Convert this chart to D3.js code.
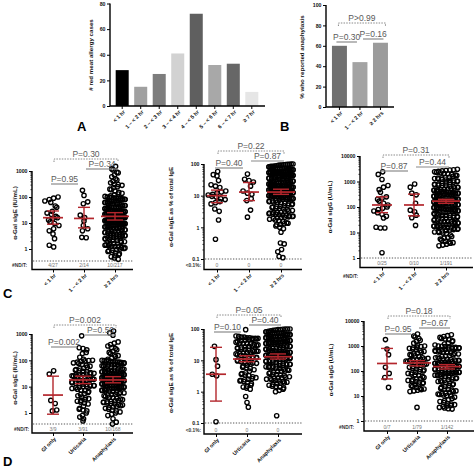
<!DOCTYPE html>
<html><head><meta charset="utf-8">
<script src="https://cdn.jsdelivr.net/npm/d3@7"></script>
<style>body{margin:0;background:#fff}svg{display:block;font-family:"Liberation Sans",Arial,sans-serif}</style>
</head><body><svg id="c" width="474" height="468"></svg>
<script>
// ---------------- DATA ----------------
const catsA = ["< 1 hr","1 – < 2 hr","2 – < 3 hr","3 – < 4 hr","4 – < 5 hr","5 – < 6 hr","6 – < 7 hr","≥ 7 hr"];
const valsA = [28,15,25,41,72,32,33,11];
const colorsA = ["#000000","#a0a0a0","#7d7d7d","#d2d2d2","#5f5f5f","#a8a8a8","#676767","#e6e6e6"];
const catsB = ["< 1 hr","1 – < 2 hr","≥ 2 hrs"];
const valsB = [60,44,63];
const colorsB = ["#707070","#a3a3a3","#9b9b9b"];
const pB = ["P=0.30","P=0.16","P>0.99"];

const catsTime = ["< 1 hr","1 – < 2 hr","≥ 2 hrs"];
const catsReact = ["GI only","Urticaria","Anaphylaxis"];

// C1: alpha-Gal sIgE (IU/mL) by time
const c1_lt1 = [100,90,80,70,62,45,40,28,24,21,18,16,15,13,11,9.5,8,6,5,3.8,2.5,1.4,1.2];
const c1_mid = [180,115,65,55,20,16,12,8,6,5,2.8,2.7];
const c1_ge2 = [1500,1200,1100,900,850,700,600,500,450,400,350,300,300,280,250,230,200,190,170,150,140,130,120,110,105,
95,92,90,88,85,82,80,78,75,72,70,68,65,63,60,58,56,55,52,50,48,46,45,43,42,40,38,37,36,35,34,33,32,31,30,30,99,97,87,76,66,54,47,41,39,
29,28,28,27,26,26,25,25,24,24,23,23,22,22,21,21,20,20,20,19,19,19,18,18,18,17,17,17,16,16,16,15,15,15,14,14,14,13,13,13,12.5,12,12,12,11.5,11,11,11,10.5,10.5,10.2,10,10,10,29.5,27.5,22.5,18.5,15.5,12.8,
9.8,9.5,9.2,9,8.8,8.5,8.2,8,7.8,7.5,7.2,7,6.8,6.5,6.2,6,5.8,5.5,5.2,5,4.8,4.6,4.4,4.2,4,3.9,3.8,3.6,3.5,3.4,3.3,3.2,3.1,3,9.6,8.6,7.4,6.4,5.4,4.5,
2.9,2.8,2.7,2.6,2.5,2.4,2.3,2.2,2.1,2,1.9,1.8,1.7,1.6,1.5,1.45,1.4,1.35,1.3,1.25,1.2,1.15,1.1,1.05,1,
0.95,0.9,0.85,0.8,0.75,0.7,0.65,0.6,0.55,0.5,0.45,0.4];
const medC1 = [16,15,18], loC1 = [9,6.5,13], hiC1 = [29,40,25];
const ndC1 = ["4/27","2/14","10/217"];
const pC1 = ["P=0.95","P=0.34","P=0.30"];

// C2: alpha-Gal sIgE as % of total IgE by time
const c2_lt1 = [58,46,42,30,22,20,18,14,13,12,11,10.5,9.5,9,8,7.5,6.5,6,5.5,3.8,3.2,1.7,0.42];
const c2_mid = [48,33,30,27,20,14,12,11,8,7,3.5,2.1];
const c2_ge2 = [100,100,98,97,96,95,93,92,90,88,86,85,
82,80,78,76,75,73,72,70,68,66,65,63,62,60,58,57,56,55,54,53,52,51,50,50,84,79,74,69,64,61,59,57.5,55.5,52.5,51.5,
49,48,47,46,45,44,43,42,41,40,39,38,37,36,35,34,33,32,31,30,29.5,29,28,27.5,27,26,25.5,25,24,23.5,23,22.5,22,21.5,21,20.5,20,48.5,44.5,40.5,37.5,34.5,31.5,28.5,26.5,24.5,22.2,21.2,20.2,45.5,
19.5,19,18.5,18,17.5,17,16.5,16,15.5,15,14.5,14,13.5,13,12.5,12,11.5,11,10.5,10,9.8,9.5,9.2,9,8.8,8.5,8.2,8,19.2,18.2,17.2,16.2,15.2,14.2,13.2,12.2,11.2,10.2,9.6,8.6,19.8,18.8,17.8,16.8,15.8,14.8,13.8,12.8,11.8,10.8,9.9,9.3,8.9,8.3,8.1,
7.8,7.5,7.2,7,6.8,6.5,6.2,6,5.8,5.5,5.2,5,4.8,4.6,4.4,4.2,4,3.8,3.6,3.4,3.2,3,2.9,2.8,2.7,2.6,2.5,2.4,2.3,2.2,2.1,2,7.6,6.6,5.6,4.5,3.9,3.3,2.95,2.65,2.45,2.25,2.15,2.05,6.3,
1.9,1.8,1.7,1.6,1.5,1.4,1.35,1.3,1.25,1.2,1.1,1,0.9,0.7,
0.32,0.3,0.2,0.17,0.12,0.11];
const medC2 = [10,13,13], loC2 = [6,7,11], hiC2 = [15,26,16];
const ndC2 = ["0","0","0"];
const pC2 = ["P=0.40","P=0.87","P=0.22"];

// C3: alpha-Gal sIgG (U/mL) by time
const c3_lt1 = [2400,1900,1200,700,600,480,380,250,220,200,170,140,120,100,90,80,70,60,52,43,37,15,15,16,1.6];
const c3_mid = [800,600,350,300,140,75,65,48,38,19];
const c3_ge2 = [3000,2900,2800,2700,2600,2500,2400,2300,2200,2100,2000,1900,1800,1700,1600,
1450,1400,1350,1300,1250,1200,1150,1100,1050,1000,950,900,850,800,780,750,720,700,680,650,620,600,580,560,540,520,500,1380,1120,880,
480,460,440,420,400,390,380,370,360,350,340,330,320,310,300,290,280,270,260,250,240,230,220,210,200,195,190,185,180,175,170,165,160,155,150,145,140,135,130,125,120,115,110,105,100,470,430,395,355,315,285,255,225,205,188,172,158,142,128,112,
98,95,92,90,88,85,82,80,78,75,72,70,68,65,62,60,58,55,52,50,48,46,44,42,40,38,36,34,32,30,29,28,27,26,25,24,23,22,21,20,96,86,76,66,56,47,39,33,27.5,22.5,
19.5,19,18.5,18,17.5,17,16.5,16,15.5,15,14.5,14,13.5,13,12.5,12,11.5,11,10.5,10,
9.5,9,8,7,6.5,6,5.5,5,4.5,4.2,4,3.8,3.5,3.2,3];
const medC3 = [120,120,170], loC3 = [60,45,140], hiC3 = [250,320,200];
const ndC3 = ["0/25","0/10","1/191"];
const pC3 = ["P=0.87","P=0.44","P=0.31"];

// D1: alpha-Gal sIgE (IU/mL) by reaction
const d1_gi = [40,30,3,2.3,1.3,1.2];
const d1_urt = [850,300,280,250,200,180,130,110,
100,98,95,90,85,80,75,70,65,60,55,50,48,45,42,40,38,36,34,32,31,30,
29,28,27,26,25,24,23,22,21,20,19,18.5,18,17,16.5,16,15,14,13.5,13,12.5,12,11.5,11,10.8,10.5,10.2,10,
9.5,9,8.5,8,7.5,7,6.5,6,5.5,5,4.5,4,3.8,3.5,3.2,3,2.8,2.6,2.4,2.2,
1.8,1.5,1.4,1.3,1.2,1,0.8,0.7,0.6,0.5];
const d1_ana = [1300,1100,900,500,450,400,350,300,280,250,220,200,180,160,150,140,120,110,
100,98,95,92,90,88,85,82,80,78,75,72,70,68,65,62,60,58,55,52,50,48,46,45,44,42,40,39,38,37,36,35,34,33,32,31,30,96,86,66,
29.5,29,28.5,28,27,26.5,26,25,24.5,24,23,22.5,22,21,20.5,20,19.5,19,18.5,18,17.5,17,16.5,16,15.5,15,14.5,14,13.5,13,12.5,12,11.5,11,10.8,10.5,10.2,10,27.5,25.5,21.5,18.2,16.2,13.2,11.2,
9.8,9.5,9.2,9,8.8,8.5,8.2,8,7.8,7.5,7.2,7,6.8,6.5,6.2,6,5.8,5.5,5.2,5,4.8,4.5,4.2,4,3.8,3.6,3.4,3.2,3,2.9,2.8,2.7,2.6,2.5,2.4,2.3,2.2,2.1,2,9.3,
1.9,1.8,1.7,1.6,1.5,1.4,1.3,1.2,1.1,1,0.9,0.8,0.6,0.45,0.38];
const medD1 = [4.8,18,18], loD1 = [0.9,13,14], hiD1 = [25,25,24];
const ndD1 = ["3/9","3/91","10/168"];
const pD1 = ["P=0.002","P=0.50","P=0.002"];

// D2: alpha-Gal sIgE as % of total IgE by reaction
const d2_gi = [28,10.5,6.5,3.6,3.2,0.11];
const d2_urt = [95,60,58,55,55,52,52,50,50,50,
48,46,45,44,42,40,38,36,35,34,33,32,31,30,29,28,27,26,25,24,23,22,21,20.5,20,
19.5,19,18.5,18,17,16.5,16,15,14.5,14,13.5,13,12.5,12,11.5,11,10.5,10,9.5,9,8.8,8.5,8.2,8,11.8,
7.5,7,6.5,6,5.5,5,4.5,4,3.8,3.6,3.4,3.2,3,2.8,2.6,2.5,2.4,2.3,2.2,2.1,2,5.8,
1.8,1.6,1.5,1.4,1.3,1.2,0.7,0.45,0.32];
const d2_ana = [100,100,100,98,96,95,92,90,88,85,82,80,
78,76,75,73,72,70,68,66,65,63,62,60,58,57,55,54,52,50,49,48,47,46,45,44,43,42,41,40,79,74,69,64,59,53,45.5,
39,38,37,36,35,34,33,32,31,30,29,28,27,26,25,24,23,22,21,20,19.5,19,18.5,18,17.5,17,16.5,16,15.5,15,38.5,35.5,32.5,29.5,27.5,25.5,23.5,21.5,19.8,18.8,17.8,16.8,15.8,15.2,36.5,
14.5,14,13.5,13,12.5,12,11.5,11,10.5,10,9.5,9,8.5,8,7.8,7.5,7.2,7,6.8,6.5,6.2,6,5.8,5.5,5.2,5,14.2,13.2,12.2,11.2,10.2,9.2,8.2,7.4,6.6,5.6,12.8,10.8,8.8,6.4,
4.8,4.6,4.4,4.2,4,3.8,3.6,3.4,3.2,3,2.9,2.8,2.7,2.6,2.5,2.4,2.3,2.2,2.1,2,1.9,1.8,1.7,1.6,1.5,1.4,1.3,1.2,1.1,1,4.5,3.5,2.75,1.85,1.45,
0.17];
const medD2 = [3.6,11,13], loD2 = [0.5,9,11], hiD2 = [26,14,16];
const ndD2 = ["0","0","0"];
const pD2 = ["P=0.10","P=0.40","P=0.05"];

// D3: alpha-Gal sIgG (U/mL) by reaction
const d3_gi = [1800,750,450,140,80,55,22];
const d3_urt = [3000,2500,2300,2000,1700,1500,1300,1100,
1000,950,900,850,800,750,700,650,600,560,520,480,450,420,400,370,340,320,
300,290,280,270,260,250,240,230,220,210,200,190,180,170,160,150,140,130,120,115,110,100,
95,90,85,80,75,70,65,60,55,50,48,45,42,40,38,36,34,32,30,28,26,24,22,20,
19,18,17,16,15,3.5];
const d3_ana = [2800,2600,2400,2200,2000,1900,1800,1600,1500,1300,1200,1100,
1000,980,950,920,900,880,850,820,800,780,750,720,700,680,650,620,600,580,550,520,500,480,450,420,400,380,360,340,320,300,
290,280,270,260,250,240,230,220,210,200,195,190,185,180,175,170,165,160,155,150,145,140,135,130,125,120,115,110,105,100,275,235,205,178,152,
98,95,92,90,88,85,82,80,78,75,72,70,68,65,62,60,58,55,52,50,48,45,42,40,38,36,34,32,30,28,26,24,22,20,85.5,
19,18,17,16,15,14,13,12.5,12,11.5,11,10.5,10,9,8,7,6.5,6,5.5,5,4.8,4.5,4.2,4,3.8,3.5,3.3,3.1,3];
const medD3 = [200,210,150], loD3 = [48,160,120], hiD3 = [800,260,180];
const ndD3 = ["0/7","1/79","1/142"];
const pD3 = ["P=0.95","P=0.67","P=0.18"];

// ---------------- DRAWING ----------------
const svg = d3.select("#c");
const RED = "#b3262c", GRAYP = "#5a5a5a", LINEP = "#8a8a8a";

function rotLabels(g, x, cats, axisY, fs) {
  g.selectAll(null).data(cats).join("text")
    .attr("transform", d => `translate(${x(d) + (x.bandwidth ? x.bandwidth()/2 : 0) + 2},${axisY + 5}) rotate(-45)`)
    .attr("text-anchor", "end").attr("dy", "0.35em")
    .attr("font-size", fs).attr("font-weight", "bold").attr("fill", "#111").text(d => d);
}
function yLabel(g, x, y, txt) {
  g.append("text").attr("transform", `translate(${x},${y}) rotate(-90)`)
    .attr("text-anchor", "middle").attr("dy", "0.35em")
    .attr("font-size", 6.2).attr("font-weight", "bold").attr("fill", "#111").text(txt);
}
function styleAxis(sel) {
  sel.select(".domain").remove();
  sel.selectAll(".tick line").attr("stroke", "#000").attr("stroke-width", 1);
  sel.selectAll(".tick text").attr("font-size", 5.2).attr("font-weight", "bold").attr("fill", "#111")
    .attr("font-family", '"Liberation Sans",Arial,sans-serif');
}
function bracket(g, x1, x2, yl, label, dashed) {
  if (dashed) {
    g.append("path").attr("d", `M${x1},${yl + 3}V${yl}H${x2}V${yl + 3}`)
      .attr("fill", "none").attr("stroke", LINEP).attr("stroke-width", 1).attr("stroke-dasharray", "1.5,1.2");
  } else {
    g.append("line").attr("x1", x1).attr("x2", x2).attr("y1", yl).attr("y2", yl)
      .attr("stroke", LINEP).attr("stroke-width", 1.2);
  }
  g.append("text").attr("x", (x1 + x2) / 2).attr("y", yl - 2.3).attr("text-anchor", "middle")
    .attr("font-size", 8.5).attr("fill", GRAYP).text(label);
}
function letter(x, y, t) {
  svg.append("text").attr("x", x).attr("y", y).attr("font-size", 13).attr("font-weight", "bold").attr("fill", "#000").text(t);
}

// ---- Panel A ----
(function () {
  const g = svg.append("g");
  const x = d3.scaleBand().domain(catsA).range([110.5, 263.5]).paddingInner(0.297).paddingOuter(0.28);
  const y = d3.scaleLinear().domain([0, 80]).range([106, 3.5]);
  g.selectAll("rect").data(catsA).join("rect")
    .attr("x", d => x(d)).attr("width", x.bandwidth())
    .attr("y", (d, i) => y(valsA[i])).attr("height", (d, i) => y(0) - y(valsA[i]))
    .attr("fill", (d, i) => colorsA[i]);
  const ya = g.append("g").attr("transform", "translate(110,0)").call(d3.axisLeft(y).tickValues([0, 20, 40, 60, 80]).tickSize(3).tickPadding(1.5));
  styleAxis(ya);
  const xa = g.append("g").attr("transform", "translate(0,106)").call(d3.axisBottom(x).tickSize(3).tickFormat(""));
  styleAxis(xa);
  g.append("path").attr("d", "M110,3.5V106H265").attr("fill", "none").attr("stroke", "#000").attr("stroke-width", 1.4);
  rotLabels(g, x, catsA, 106, 5.4);
  yLabel(g, 91, 55, "# red meat allergy cases");
})();

// ---- Panel B ----
(function () {
  const g = svg.append("g");
  const x = d3.scaleBand().domain(catsB).range([326, 393.9]).paddingInner(0.27).paddingOuter(0.29);
  const y = d3.scaleLinear().domain([0, 100]).range([107, 5]);
  g.selectAll("rect").data(catsB).join("rect")
    .attr("x", d => x(d)).attr("width", x.bandwidth())
    .attr("y", (d, i) => y(valsB[i])).attr("height", (d, i) => y(0) - y(valsB[i]))
    .attr("fill", (d, i) => colorsB[i]);
  const ya = g.append("g").attr("transform", "translate(326,0)").call(d3.axisLeft(y).tickValues([0, 20, 40, 60, 80, 100]).tickSize(3).tickPadding(1.5));
  styleAxis(ya);
  const xa = g.append("g").attr("transform", "translate(0,107)").call(d3.axisBottom(x).tickSize(3).tickFormat(""));
  styleAxis(xa);
  g.append("path").attr("d", "M326,5V107H394").attr("fill", "none").attr("stroke", "#000").attr("stroke-width", 1.4);
  rotLabels(g, x, catsB, 107, 5.4);
  yLabel(g, 302, 57, "% who reported anaphylaxis");
  const c = d => x(d) + x.bandwidth() / 2;
  bracket(g, c(catsB[0]) - 3, c(catsB[1]) - 3, 42, pB[0], false);
  bracket(g, c(catsB[1]) + 3, c(catsB[2]) + 3, 39, pB[1], false);
  bracket(g, c(catsB[0]) - 1, c(catsB[2]) + 5, 23, pB[2], true);
})();

// ---- swarm layout ----
function swarm(vals, y, cx, maxHalf, rowH, sp0) {
  const pts = vals.map(v => ({ v, y: y(v) })).sort((a, b) => a.y - b.y);
  const rows = [];
  let cur = null;
  pts.forEach(p => {
    if (!cur || p.y - cur.y0 > rowH) { cur = { y0: p.y, pts: [] }; rows.push(cur); }
    cur.pts.push(p);
  });
  rows.forEach((r, ri) => {
    const n = r.pts.length;
    const sp = n > 1 ? Math.min(sp0, 2 * maxHalf / (n - 1)) : 0;
    const shift = (n * sp0 < 2 * maxHalf) ? (ri % 3 - 1) * sp0 * 0.35 : 0;
    const order = r.pts.slice().sort((a, b) => a.v - b.v);
    if (ri % 2) order.reverse();
    order.forEach((p, i) => p.x = cx + (i - (n - 1) / 2) * sp + shift);
  });
  return pts;
}

function scatterPanel(c) {
  const g = svg.append("g");
  const x = d3.scalePoint().domain(c.cats).range(c.xs);
  const y = d3.scaleLog().domain(c.yDom).range(c.yRange);
  const top = y(c.ticks[c.ticks.length - 1]);
  const minors = [];
  for (let e = Math.log10(c.ticks[0]); e < Math.log10(c.ticks[c.ticks.length - 1]) - 0.01; e++) {
    for (let k = 2; k <= 9; k++) minors.push(k * Math.pow(10, e));
  }
  const ym = g.append("g").attr("transform", `translate(${c.ax},0)`).call(d3.axisLeft(y).tickValues(minors).tickSize(1.6).tickFormat(""));
  styleAxis(ym); ym.selectAll(".tick line").attr("stroke-width", 0.7);
  const ya = g.append("g").attr("transform", `translate(${c.ax},0)`).call(d3.axisLeft(y).tickValues(c.ticks).tickSize(3).tickPadding(1.5).tickFormat(d => String(d)));
  styleAxis(ya);
  const xa = g.append("g").attr("transform", `translate(0,${c.axisY})`).call(d3.axisBottom(x).tickSize(3).tickFormat(""));
  styleAxis(xa);
  g.append("path").attr("d", `M${c.ax},${top}V${c.axisY}H${c.xEnd}`).attr("fill", "none").attr("stroke", "#000").attr("stroke-width", 1.4);
  g.append("line").attr("x1", c.ax + 1).attr("x2", c.xEnd).attr("y1", c.dashY).attr("y2", c.dashY)
    .attr("stroke", "#444").attr("stroke-width", 0.9).attr("stroke-dasharray", "1.3,1.5");
  g.selectAll(null).data(c.nd).join("text").attr("x", (d, i) => x(c.cats[i])).attr("y", c.ndY).attr("dy", "0.35em")
    .attr("text-anchor", "middle").attr("font-size", 5).attr("fill", "#777").text(d => d);
  g.append("text").attr("x", c.ndLabelX).attr("y", c.ndLabelY).attr("dy", "0.35em").attr("text-anchor", "end")
    .attr("font-size", 4.8).attr("font-weight", "bold").attr("fill", "#333").text(c.ndLabel);
  c.groups.forEach((vals, i) => {
    const big = vals.length > 40;
    const pts = swarm(vals, y, x(c.cats[i]), c.halfs[i], big ? 2.8 : 4.2, big ? 3.8 : 4.4);
    g.append("g").selectAll("circle").data(pts).join("circle")
      .attr("cx", d => d.x).attr("cy", d => d.y).attr("r", 2.15)
      .attr("fill", "none").attr("stroke", "#000").attr("stroke-width", 1.35);
  });
  c.cats.forEach((cat, i) => {
    const cx = x(cat), big = c.groups[i].length > 40;
    const mh = big ? 14 : 10, wh = big ? 8 : 6;
    const rg = g.append("g").attr("stroke", RED).attr("fill", "none");
    rg.append("line").attr("x1", cx).attr("x2", cx).attr("y1", y(c.lo[i])).attr("y2", y(c.hi[i])).attr("stroke-width", 1.4);
    rg.append("line").attr("x1", cx - mh).attr("x2", cx + mh).attr("y1", y(c.med[i])).attr("y2", y(c.med[i])).attr("stroke-width", 1.7);
    [c.lo[i], c.hi[i]].forEach(v => rg.append("line").attr("x1", cx - wh).attr("x2", cx + wh).attr("y1", y(v)).attr("y2", y(v)).attr("stroke-width", 1.4));
  });
  const cc = c.cats.map(d => x(d));
  bracket(g, cc[0] - 2, cc[1] - 6, c.pLines[0], c.p[0], false);
  bracket(g, cc[1] + 2, cc[2] + 3, c.pLines[1], c.p[1], false);
  bracket(g, cc[0] + 1, cc[2] + 3, c.pLines[2], c.p[2], true);
  rotLabels(g, x, c.cats, c.axisY, 5.4);
  yLabel(g, c.yLabX, c.yLabY, c.yLab);
}

scatterPanel({ cats: catsTime, groups: [c1_lt1, c1_mid, c1_ge2], med: medC1, lo: loC1, hi: hiC1, nd: ndC1, p: pC1,
  ax: 32, xEnd: 133, xs: [53, 115], yDom: [1, 1000], yRange: [249, 171], ticks: [1, 10, 100, 1000],
  dashY: 261, ndY: 265.5, axisY: 269.5, ndLabel: "#ND/T:", ndLabelX: 27, ndLabelY: 265.5,
  yLab: "α-Gal sIgE (IU/mL)", yLabX: 15, yLabY: 213, pLines: [184, 169, 159], halfs: [10, 10, 10] });

scatterPanel({ cats: catsTime, groups: [c2_lt1, c2_mid, c2_ge2], med: medC2, lo: loC2, hi: hiC2, nd: ndC2, p: pC2,
  ax: 204, xEnd: 302, xs: [217, 281], yDom: [0.1, 100], yRange: [259, 164], ticks: [0.1, 1, 10, 100],
  dashY: 259, ndY: 265.5, axisY: 269.5, ndLabel: "<0.1%:", ndLabelX: 201, ndLabelY: 265.5,
  yLab: "α-Gal sIgE as % of total IgE", yLabX: 171, yLabY: 207, pLines: [168, 161, 151], halfs: [10, 10, 12] });

scatterPanel({ cats: catsTime, groups: [c3_lt1, c3_mid, c3_ge2], med: medC3, lo: loC3, hi: hiC3, nd: ndC3, p: pC3,
  ax: 360, xEnd: 473, xs: [382, 446], yDom: [1, 10000], yRange: [258, 156], ticks: [1, 10, 100, 1000, 10000],
  dashY: 258, ndY: 263.5, axisY: 267.5, ndLabel: "#ND/T:", ndLabelX: 358, ndLabelY: 276,
  yLab: "α-Gal sIgG (U/mL)", yLabX: 330, yLabY: 207, pLines: [171, 167, 155], halfs: [10, 10, 12] });

scatterPanel({ cats: catsReact, groups: [d1_gi, d1_urt, d1_ana], med: medD1, lo: loD1, hi: hiD1, nd: ndD1, p: pD1,
  ax: 32, xEnd: 133, xs: [53, 113], yDom: [1, 1000], yRange: [413, 334], ticks: [1, 10, 100, 1000],
  dashY: 424, ndY: 429, axisY: 433, ndLabel: "#ND/T:", ndLabelX: 29, ndLabelY: 429,
  yLab: "α-Gal sIgE (IU/mL)", yLabX: 15, yLabY: 378, pLines: [347, 335, 325], halfs: [10, 11, 11] });

scatterPanel({ cats: catsReact, groups: [d2_gi, d2_urt, d2_ana], med: medD2, lo: loD2, hi: hiD2, nd: ndD2, p: pD2,
  ax: 204, xEnd: 302, xs: [216, 278], yDom: [0.1, 100], yRange: [423, 329], ticks: [0.1, 1, 10, 100],
  dashY: 423, ndY: 430, axisY: 434, ndLabel: "<0.1%:", ndLabelX: 201, ndLabelY: 430,
  yLab: "α-Gal sIgE as % of total IgE", yLabX: 171, yLabY: 373, pLines: [332, 325, 315], halfs: [10, 11, 12] });

scatterPanel({ cats: catsReact, groups: [d3_gi, d3_urt, d3_ana], med: medD3, lo: loD3, hi: hiD3, nd: ndD3, p: pD3,
  ax: 364, xEnd: 474, xs: [387, 447], yDom: [1, 10000], yRange: [421, 321], ticks: [1, 10, 100, 1000, 10000],
  dashY: 421, ndY: 427, axisY: 431, ndLabel: "#ND/T:", ndLabelX: 354, ndLabelY: 427,
  yLab: "α-Gal sIgG (U/mL)", yLabX: 331, yLabY: 370, pLines: [334, 328, 316], halfs: [10, 11, 12] });

letter(77, 131, "A");
letter(280, 131, "B");
letter(3, 298, "C");
letter(3, 466, "D");
</script></body></html>
